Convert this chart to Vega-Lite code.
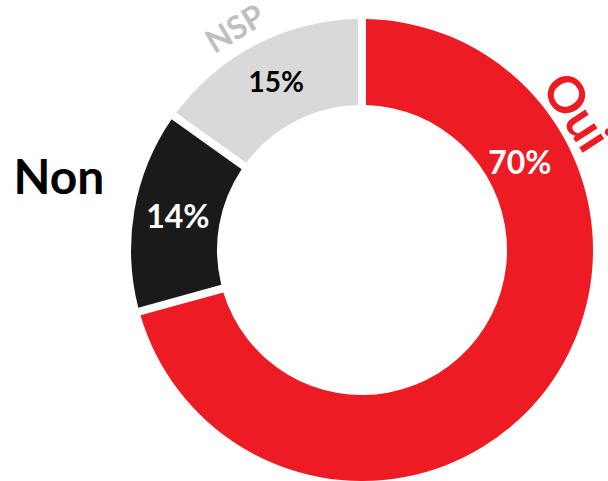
{
  "$schema": "https://vega.github.io/schema/vega-lite/v6.json",
  "width": 476,
  "height": 462,
  "autosize": "none",
  "padding": {"left": 124, "top": 19, "right": 8, "bottom": 0},
  "background": "white",
  "config": {"view": {"stroke": null}, "text": {"font": "Lato", "fontWeight": "bold"}},
  "data": {
    "values": [
      {"cat": "Oui", "pct": 70, "lab": "70%"},
      {"cat": "Non", "pct": 14, "lab": "14%"},
      {"cat": "NSP", "pct": 15, "lab": "15%"}
    ]
  },
  "encoding": {
    "theta": {"field": "pct", "type": "quantitative", "stack": true},
    "order": {"field": "cat", "type": "ordinal", "sort": "descending"}
  },
  "layer": [
    {
      "mark": {"type": "arc", "outerRadius": 231, "innerRadius": 145, "padAngle": 0.029},
      "encoding": {
        "color": {
          "field": "cat",
          "type": "nominal",
          "scale": {"domain": ["Oui", "Non", "NSP"], "range": ["#ED1C24", "#1A1A1A", "#D9D9D9"]},
          "legend": null
        }
      }
    },
    {
      "mark": {"type": "text", "radius": 187, "align": "center", "baseline": "middle"},
      "encoding": {
        "text": {"condition": {"test": "datum.cat !== 'Oui'", "field": "lab", "type": "nominal"}, "value": ""},
        "color": {"condition": {"test": "datum.cat === 'NSP'", "value": "#000000"}, "value": "#FFFFFF"},
        "size": {"condition": {"test": "datum.cat === 'NSP'", "value": 28}, "value": 32}
      }
    },
    {
      "mark": {"type": "text", "radius": 180, "thetaOffset": -1.151, "align": "center", "baseline": "middle", "fontSize": 32, "color": "#FFFFFF"},
      "encoding": {
        "text": {"condition": {"test": "datum.cat === 'Oui'", "field": "lab", "type": "nominal"}, "value": ""}
      }
    },
    {
      "mark": {"type": "text", "radius": 253, "thetaOffset": -1.221, "angle": 57, "align": "center", "baseline": "middle", "fontSize": 50, "color": "#ED1C24"},
      "encoding": {
        "text": {"condition": {"test": "datum.cat === 'Oui'", "field": "cat", "type": "nominal"}, "value": ""}
      }
    },
    {
      "mark": {"type": "text", "radius": 254, "thetaOffset": -0.045, "angle": -31, "align": "center", "baseline": "middle", "fontSize": 32, "color": "#BFBFBF"},
      "encoding": {
        "text": {"condition": {"test": "datum.cat === 'NSP'", "field": "cat", "type": "nominal"}, "value": ""}
      }
    },
    {
      "mark": {"type": "text", "radius": 311, "thetaOffset": 0.052, "align": "center", "baseline": "middle", "fontSize": 48, "color": "#000000"},
      "encoding": {
        "text": {"condition": {"test": "datum.cat === 'Non'", "field": "cat", "type": "nominal"}, "value": ""}
      }
    }
  ]
}
